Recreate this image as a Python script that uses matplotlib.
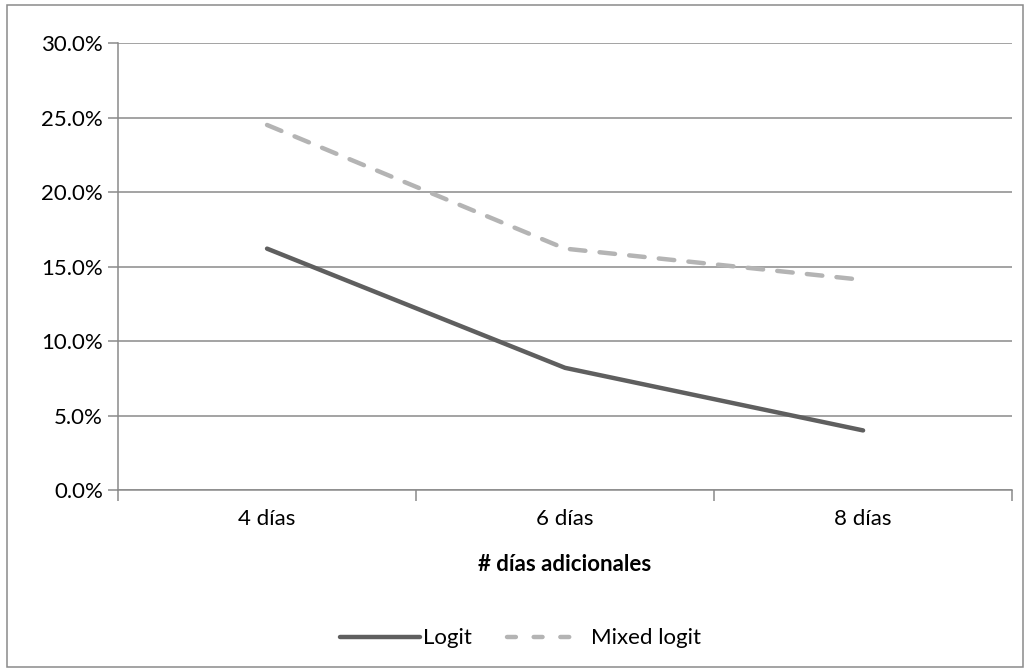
import matplotlib
matplotlib.use("Agg")
import matplotlib.pyplot as plt
from matplotlib.patches import Rectangle
from matplotlib.ticker import FuncFormatter

plt.rcParams['font.family'] = ['Lato', 'DejaVu Sans']

# datos
categorias = ['4 días', '6 días', '8 días']
logit = [16.2, 8.2, 4.0]
mixed_logit = [24.5, 16.2, 14.1]

fs = 16

fig = plt.figure(figsize=(10.3, 6.72), dpi=100)
ax = fig.add_axes([0.1146, 0.2708, 0.868, 0.6652])

x = range(len(categorias))
ax.plot(x, logit, color='#5f5f5f', lw=3.2, solid_capstyle='round', label='Logit')
ax.plot(x, mixed_logit, color='#b4b4b4', lw=3.2, dashes=(3.5, 3.2),
        dash_capstyle='round', label='Mixed logit')

ax.set_xlim(-0.5, 2.5)
ax.set_ylim(0, 30)
ax.set_yticks([0, 5, 10, 15, 20, 25, 30])
ax.yaxis.set_major_formatter(FuncFormatter(lambda v, p: '%.1f%%' % v))
ax.grid(axis='y', color='#8a8a8a', lw=1.1)
ax.set_axisbelow(True)

ax.set_xticks([-0.5, 0.5, 1.5, 2.5])
ax.set_xticklabels([])
ax.set_xticks(list(x), minor=True)
ax.set_xticklabels(categorias, minor=True)
ax.tick_params(axis='x', which='major', length=8, color='#8a8a8a', width=1.1)
ax.tick_params(axis='x', which='minor', length=0, pad=14, labelsize=fs)
ax.tick_params(axis='y', length=7, color='#8a8a8a', width=1.1, labelsize=fs, pad=4)

for s in ['top', 'right']:
    ax.spines[s].set_visible(False)
for s in ['left', 'bottom']:
    ax.spines[s].set_color('#8a8a8a')
    ax.spines[s].set_linewidth(1.1)

ax.set_xlabel('# días adicionales', fontsize=fs, fontweight='bold', labelpad=18)

leg = fig.legend(loc='center', bbox_to_anchor=(0.505, 0.05), ncol=2, frameon=False,
                 fontsize=fs, handlelength=3.6, columnspacing=1.6, handletextpad=0.15)
leg.get_lines()[1].set_dashes((2.0, 4.0))

fig.patches.append(Rectangle((0.007, 0.008), 0.986, 0.984, transform=fig.transFigure,
                             fill=False, edgecolor='#8a8a8a', lw=1.1))

fig.savefig('out.png', dpi=100)
